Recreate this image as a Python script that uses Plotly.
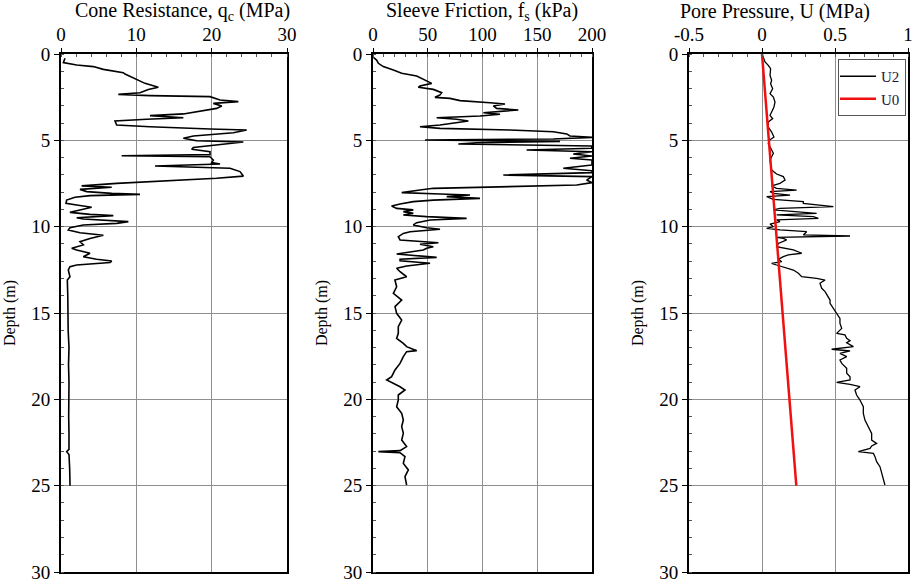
import plotly.graph_objects as go

# ---------------- data ----------------
qc_depth = [0.25, 0.50, 0.64, 0.73, 0.89, 1.08, 1.16, 1.51, 1.70, 1.93, 2.05, 2.24, 2.34, 2.41, 2.47,
            2.66, 2.76, 2.86, 3.01, 3.15, 3.34, 3.47, 3.57, 3.69, 3.78, 3.88, 4.11, 4.21, 4.34, 4.40,
            4.56, 4.75, 4.88, 5.02, 5.10, 5.27, 5.41, 5.52, 5.66, 5.83, 5.89, 5.95, 6.14, 6.29, 6.37,
            6.49, 6.56, 6.62, 6.81, 7.07, 7.20, 7.34, 7.49, 7.64, 7.72, 7.84, 7.97, 8.07, 8.13, 8.20,
            8.30, 8.46, 8.65, 8.75, 8.88, 9.03, 9.17, 9.29, 9.36, 9.48, 9.56, 9.71, 9.81, 9.90, 10.06,
            10.19, 10.35, 10.50, 10.68, 10.87, 11.06, 11.25, 11.35, 11.54, 11.74, 11.89, 11.99, 12.08,
            12.22, 12.32, 12.51, 12.90, 13.09, 14.0, 15.0, 16.0, 17.0, 18.0, 19.0, 20.0, 21.0, 22.0,
            22.9, 23.03, 23.2, 24.0, 25.0]
qc_value = [0.53, 0.31, 2.08, 4.29, 5.62, 8.27, 8.50, 10.27, 11.15, 12.92, 11.59, 10.49, 7.61, 11.81, 19.78,
            21.11, 23.54, 20.22, 21.33, 20.66, 18.01, 16.24, 11.81, 16.24, 11.37, 7.17, 7.39, 11.81, 19.78, 24.65,
            22.88, 17.57, 16.24, 18.01, 24.20, 20.66, 17.57, 17.35, 19.78, 19.78, 8.05, 19.78, 20.22, 20.00, 21.11,
            12.48, 17.12, 22.43, 23.76, 24.20, 20.66, 14.03, 7.39, 2.74, 6.73, 2.52, 3.41, 6.73, 10.49, 3.85,
            1.86, 0.75, 0.66, 2.08, 4.07, 2.52, 1.19, 3.85, 6.95, 2.08, 2.96, 8.94, 7.39, 2.96, 1.19,
            0.97, 2.52, 5.62, 3.85, 2.52, 2.96, 1.42, 2.08, 3.85, 2.96, 4.73, 6.73, 6.50,
            2.08, 1.19, 0.97, 1.19, 0.84, 0.90, 0.88, 0.95, 1.06, 1.00, 1.06, 1.00, 1.02, 1.06,
            1.06, 0.75, 1.06, 1.15, 1.20]

fs_depth = [0.19, 0.35, 0.54, 0.73, 0.93, 1.12, 1.27, 1.41, 1.60, 1.70, 1.85, 1.93, 2.05, 2.24, 2.37,
            2.51, 2.57, 2.70, 2.82, 2.90, 3.01, 3.15, 3.24, 3.34, 3.40, 3.49, 3.59, 3.69, 3.78, 3.88,
            3.98, 4.11, 4.21, 4.31, 4.40, 4.50, 4.63, 4.75, 4.83, 4.92, 4.98, 5.06, 5.14, 5.21, 5.33,
            5.46, 5.56, 5.66, 5.79, 5.91, 6.04, 6.14, 6.43, 6.62, 6.76, 6.87, 7.01, 7.10, 7.30, 7.45,
            7.59, 7.68, 7.78, 7.88, 8.03, 8.11, 8.17, 8.26, 8.36, 8.46, 8.55, 8.69, 8.80, 8.94, 9.03,
            9.13, 9.23, 9.32, 9.42, 9.52, 9.61, 9.77, 9.90, 10.06, 10.15, 10.29, 10.39, 10.58, 10.77,
            10.93, 11.02, 11.16, 11.25, 11.35, 11.45, 11.58, 11.78, 11.89, 11.97, 12.12, 12.28, 12.41,
            12.61, 12.90, 13.09, 13.48, 13.86, 14.25, 14.63, 15.02, 15.41, 15.79, 16.18, 16.47, 16.76,
            16.95, 17.18, 17.24, 17.53, 17.92, 18.30, 18.69, 18.88, 19.07, 19.27, 19.46, 19.75, 20.04,
            20.43, 20.81, 21.20, 21.58, 21.97, 22.36, 22.74, 22.97, 23.03, 23.09, 23.32, 23.71, 24.09,
            24.48, 24.96]
fs_value = [0.3, 3.3, 4.9, 9.4, 18.6, 26.2, 39.9, 44.4, 49.0, 53.6, 42.9, 41.4, 55.1, 62.7, 61.2,
            56.6, 70.3, 79.5, 106.8, 120.5, 109.9, 112.9, 132.7, 116.0, 100.8, 116.0, 97.7, 58.1, 76.4, 87.1,
            74.9, 61.2, 42.9, 61.2, 125.1, 164.7, 176.9, 179.9, 200.0, 164.7, 47.5, 170.8, 94.7, 77.9, 199.7,
            200.0, 140.3, 200.0, 182.9, 200.0, 179.9, 200.0, 200.0, 173.8, 200.0, 200.0, 119.0, 200.0, 195.1, 200.0,
            186.0, 109.9, 55.1, 42.9, 26.2, 61.2, 88.6, 67.3, 97.7, 55.1, 36.8, 24.7, 17.0, 21.6, 36.8,
            27.7, 36.8, 27.7, 49.0, 85.5, 52.1, 39.9, 36.8, 49.0, 61.2, 33.8, 27.7, 23.1, 24.7,
            59.7, 42.9, 55.1, 49.0, 46.0, 36.8, 21.6, 58.1, 24.7, 24.7, 52.1, 30.7, 21.6,
            24.7, 30.7, 20.0, 21.6, 18.6, 26.2, 20.1, 21.6, 26.2, 23.1, 23.1, 21.6, 27.7,
            30.7, 39.9, 30.7, 27.7, 24.7, 20.1, 17.0, 12.5, 18.6, 24.7, 29.2, 23.1, 23.1,
            21.6, 26.2, 27.7, 26.2, 27.7, 26.2, 30.7, 24.7, 4.9, 24.7, 29.2, 27.7, 32.3,
            29.2, 30.7]

u2_depth = [0.0, 0.17, 0.46, 0.66, 0.85, 1.24, 1.52, 1.72, 2.01, 2.30, 2.49, 2.78, 3.07, 3.36, 3.55,
            3.74, 3.94, 4.23, 4.52, 4.81, 5.00, 5.19, 5.48, 5.67, 5.75, 6.14, 6.72, 6.95, 7.10, 7.30,
            7.49, 7.64, 7.78, 7.88, 7.97, 8.07, 8.17, 8.26, 8.42, 8.55, 8.65, 8.84, 8.94, 9.03, 9.23,
            9.32, 9.42, 9.52, 9.61, 9.71, 9.85, 10.00, 10.10, 10.19, 10.29, 10.48, 10.54, 10.62, 10.68,
            10.77, 10.97, 11.16, 11.25, 11.35, 11.54, 11.64, 11.74, 11.89, 12.03, 12.12, 12.22, 12.32,
            12.51, 12.70, 12.90, 12.99, 13.09, 13.28, 13.57, 13.76, 14.05, 14.25, 14.44, 14.73, 15.02,
            15.31, 15.60, 15.89, 16.18, 16.27, 16.47, 16.60, 16.72, 16.95, 17.10, 17.20, 17.34, 17.53,
            17.72, 17.92, 18.20, 18.49, 18.69, 18.88, 19.02, 19.13, 19.27, 19.46, 19.75, 20.04, 20.42,
            20.81, 21.20, 21.58, 21.97, 22.36, 22.55, 22.70, 22.84, 23.03, 23.13, 23.32, 23.61, 23.90,
            24.29, 24.67, 24.96]
u2_value = [0.0, 0.009, 0.021, 0.043, 0.059, 0.055, 0.066, 0.059, 0.073, 0.055, 0.078, 0.089, 0.082, 0.066, 0.055,
            0.073, 0.043, 0.043, 0.066, 0.082, 0.050, 0.043, 0.059, 0.073, 0.078, 0.055, 0.066, 0.100, 0.146, 0.158,
            0.123, 0.066, 0.100, 0.237, 0.055, 0.078, 0.192, 0.032, 0.078, 0.283, 0.283, 0.489, 0.123, 0.078, 0.374,
            0.100, 0.352, 0.386, 0.100, 0.123, 0.055, 0.078, 0.032, 0.123, 0.306, 0.283, 0.603, 0.100, 0.146,
            0.169, 0.112, 0.100, 0.146, 0.215, 0.272, 0.180, 0.146, 0.112, 0.135, 0.066, 0.100, 0.146,
            0.215, 0.249, 0.272, 0.374, 0.432, 0.397, 0.409, 0.432, 0.454, 0.466, 0.466, 0.489, 0.511,
            0.534, 0.534, 0.546, 0.511, 0.568, 0.580, 0.603, 0.580, 0.626, 0.477, 0.603, 0.534, 0.580,
            0.534, 0.546, 0.580, 0.580, 0.603, 0.603, 0.511, 0.603, 0.671, 0.637, 0.648, 0.671, 0.694,
            0.694, 0.705, 0.728, 0.751, 0.751, 0.785, 0.751, 0.740, 0.660, 0.763, 0.774, 0.785, 0.808,
            0.820, 0.831, 0.842]

u0_depth = [0.0, 25.0]
u0_value = [0.0, 0.235]

depth_ticks = [0, 5, 10, 15, 20, 25, 30]
qc_ticks = [0, 10, 20, 30]
fs_ticks = [0, 50, 100, 150, 200]
u_ticks = [-0.5, 0, 0.5, 1]
u_ticklabels = ["-0.5", "0", "0.5", "1"]

# ---------------- figure ----------------
W, H = 914, 579
FONT = "Liberation Serif, Times New Roman, serif"


def px_x(p):
    return p / W


def px_y(p):
    return 1 - p / H


y_dom = [px_y(572), px_y(54)]
x_doms = [[px_x(61), px_x(287)], [px_x(373), px_x(592)], [px_x(689), px_x(908)]]

fig = go.Figure()
fig.add_trace(go.Scatter(x=qc_value, y=qc_depth, mode="lines", line=dict(color="black", width=1.6),
                         showlegend=False, xaxis="x", yaxis="y"))
fig.add_trace(go.Scatter(x=fs_value, y=fs_depth, mode="lines", line=dict(color="black", width=1.6),
                         showlegend=False, xaxis="x2", yaxis="y2"))
fig.add_trace(go.Scatter(x=u2_value, y=u2_depth, mode="lines", name="U2",
                         line=dict(color="black", width=1.3), xaxis="x3", yaxis="y3"))
fig.add_trace(go.Scatter(x=u0_value, y=u0_depth, mode="lines", name="U0",
                         line=dict(color="#f01010", width=2.5), xaxis="x3", yaxis="y3"))

grid = "#8f8f8f"
minor_style = dict(ticks="inside", ticklen=3, tickcolor="#555", showgrid=False)
common_x = dict(side="top", showline=True, linecolor="black", linewidth=1.5, mirror=True,
                showgrid=True, gridcolor=grid, gridwidth=1, zeroline=False, automargin=False,
                ticks="outside", ticklen=4, tickcolor="black", tickmode="array",
                tickfont=dict(family=FONT, size=19, color="black"))
common_y = dict(range=[30, 0], showline=True, linecolor="black", linewidth=1.8, mirror=True,
                showgrid=True, gridcolor=grid, gridwidth=1, zeroline=False, automargin=False,
                tickmode="array", tickvals=depth_ticks, ticktext=[str(t) for t in depth_ticks],
                ticks="outside", ticklen=5, tickcolor="black", ticklabeloverflow="allow",
                minor=dict(dtick=1, **minor_style),
                tickfont=dict(family=FONT, size=19, color="black"), domain=y_dom,
                title=dict(text="Depth (m)", font=dict(family=FONT, size=16, color="black"), standoff=12))

x_specs = [
    dict(range=[0, 30], tickvals=qc_ticks, ticktext=[str(t) for t in qc_ticks],
         minor=dict(tickmode="linear", tick0=0, dtick=2, **minor_style)),
    dict(range=[0, 200], tickvals=fs_ticks, ticktext=[str(t) for t in fs_ticks],
         minor=dict(tickmode="linear", tick0=0, dtick=10, **minor_style)),
    dict(range=[-0.5, 1], tickvals=u_ticks, ticktext=u_ticklabels,
         minor=dict(tickmode="linear", tick0=0, dtick=0.1, **minor_style)),
]

for i in range(3):
    sx = "" if i == 0 else str(i + 1)
    xa = dict(common_x, domain=x_doms[i], anchor="y" + sx, **x_specs[i])
    ya = dict(common_y, anchor="x" + sx)
    fig.layout["xaxis" + sx] = xa
    fig.layout["yaxis" + sx] = ya

titles = ["Cone Resistance, q<sub>c</sub> (MPa)", "Sleeve Friction, f<sub>s</sub> (kPa)",
          "Pore Pressure, U (MPa)"]
title_x = [182, 482, 775]
ann = []
for t, xc in zip(titles, title_x):
    ann.append(dict(text=t, x=px_x(xc), y=px_y(12), xref="paper", yref="paper", showarrow=False,
                    xanchor="center", yanchor="middle", font=dict(family=FONT, size=20, color="black")))

fig.update_layout(
    width=W, height=H, margin=dict(l=0, r=0, t=0, b=0, autoexpand=False),
    paper_bgcolor="white", plot_bgcolor="white",
    annotations=ann,
    legend=dict(x=px_x(838), y=px_y(59), xanchor="left", yanchor="top",
                bgcolor="white", bordercolor="#555", borderwidth=1,
                font=dict(family=FONT, size=15, color="#1a1a40"),
                itemwidth=36, tracegroupgap=0, indentation=-4),
)

fig.write_html("out.html")
